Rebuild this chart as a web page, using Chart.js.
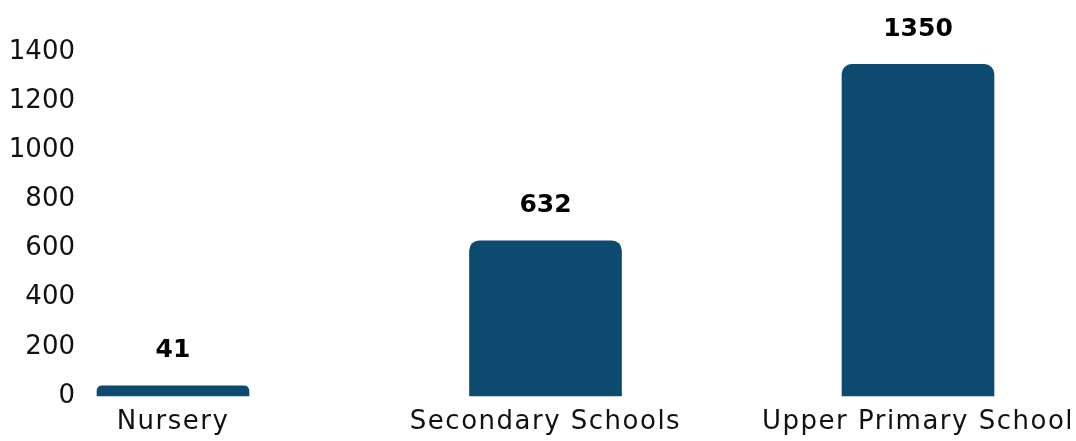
<!DOCTYPE html>
<html>
<head>
<meta charset="utf-8">
<script src="https://cdn.jsdelivr.net/npm/chart.js@4"></script>
<style>
html,body{margin:0;padding:0;background:#fff;}
#wrap{width:1076px;height:441px;position:relative;}
</style>
</head>
<body>
<div id="wrap"><canvas id="c" width="1076" height="441"></canvas></div>
<script>
const categories = ["Nursery", "Secondary Schools", "Upper Primary School"];
const values = [41, 632, 1350];
const yTicks = [0, 200, 400, 600, 800, 1000, 1200, 1400];

const FONT = "'DejaVu Sans', sans-serif";

// widen x-axis category labels slightly (letter spacing) to resemble the geometric original font
const xSpacing = {
  id: 'xSpacing',
  afterLayout(chart) {
    const xs = chart.scales.x;
    if (xs && !xs._spacedPatch) {
      const orig = xs.drawLabels;
      xs.drawLabels = function (ca) {
        const ctx = this.ctx;
        ctx.save();
        ctx.letterSpacing = '1.5px';
        orig.call(this, ca);
        ctx.restore();
      };
      xs._spacedPatch = true;
    }
  }
};

const valueLabels = {
  id: 'valueLabels',
  afterDatasetsDraw(chart) {
    const ctx = chart.ctx;
    const meta = chart.getDatasetMeta(0);
    ctx.save();
    ctx.font = "bold 25px " + FONT;
    ctx.fillStyle = "#000";
    ctx.textAlign = "center";
    ctx.textBaseline = "middle";
    meta.data.forEach((bar, i) => {
      ctx.fillText(String(values[i]), bar.x, bar.y - 35);
    });
    ctx.restore();
  }
};

new Chart(document.getElementById('c'), {
  type: 'bar',
  data: {
    labels: categories,
    datasets: [{
      data: values,
      backgroundColor: '#0c4a70',
      borderRadius: { topLeft: 10, topRight: 10, bottomLeft: 0, bottomRight: 0 },
      borderSkipped: 'bottom',
      barThickness: 152,
      clip: false
    }]
  },
  options: {
    responsive: false,
    animation: false,
    devicePixelRatio: 1,
    layout: { padding: { top: 52, right: 158, left: 0, bottom: 0 } },
    plugins: { legend: { display: false }, tooltip: { enabled: false } },
    scales: {
      x: {
        offset: false,
        grid: { display: false, drawTicks: false },
        border: { display: false },
        ticks: { color: '#111', font: { family: FONT, size: 26 }, padding: 11, maxRotation: 0, autoSkip: false },
        afterFit(scale) { scale.height = 45; scale.paddingLeft = 0; scale.paddingRight = 0; }
      },
      y: {
        min: 0, max: 1400,
        afterBuildTicks(scale) { scale.ticks = yTicks.map(v => ({ value: v })); },
        grid: { display: false, drawTicks: false },
        border: { display: false },
        ticks: { color: '#111', font: { family: FONT, size: 26 }, padding: 98, callback: v => String(v) },
        afterFit(scale) { scale.width = 173; scale.paddingTop = 0; scale.paddingBottom = 0; }
      }
    }
  },
  plugins: [xSpacing, valueLabels]
});
</script>
</body>
</html>
